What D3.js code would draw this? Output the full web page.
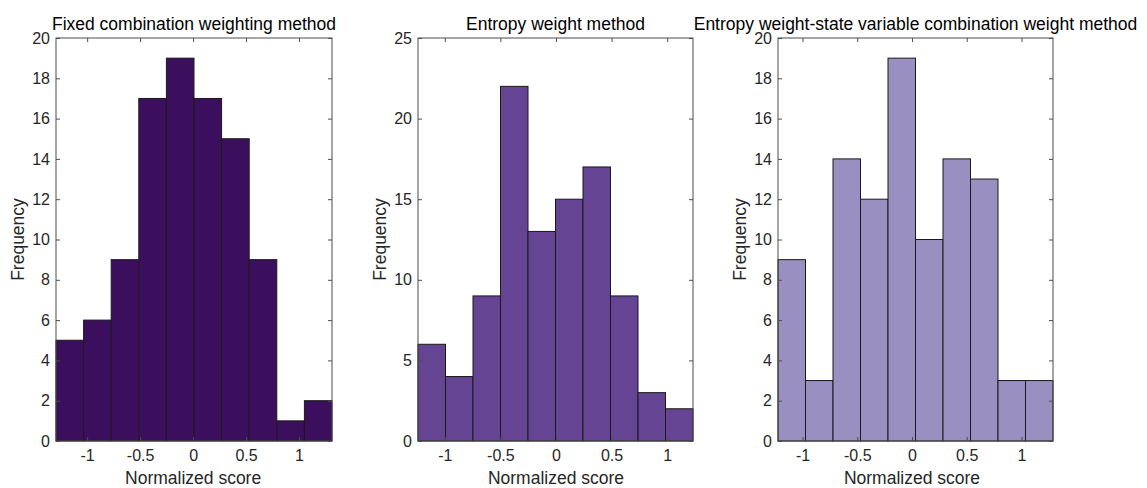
<!DOCTYPE html>
<html>
<head>
<meta charset="utf-8">
<script src="https://cdn.jsdelivr.net/npm/d3@7"></script>
<style>
  html, body { margin: 0; padding: 0; background: #fff; }
  svg { display: block; font-family: "Liberation Sans", Arial, Helvetica, sans-serif; }
</style>
</head>
<body>
<svg id="chart" width="1147" height="488"></svg>
<script>
// Histogram counts per method (10 bins each)
const titles = [
  "Fixed combination weighting method",
  "Entropy weight method",
  "Entropy weight-state variable combination weight method"
];
const countsFixed   = [5, 6, 9, 17, 19, 17, 15, 9, 1, 2];
const countsEntropy = [6, 4, 9, 22, 13, 15, 17, 9, 3, 2];
const countsCombo   = [9, 3, 14, 12, 19, 10, 14, 13, 3, 3];
// First bin edge and bin width (normalized score units)
const binStart = [-1.294, -1.241, -1.224];
const binWidth = [0.2605, 0.2473, 0.2512];
// Axis ticks
const xTicks = [-1, -0.5, 0, 0.5, 1];
const yTicksA = [0, 2, 4, 6, 8, 10, 12, 14, 16, 18, 20];
const yTicksB = [0, 5, 10, 15, 20, 25];
const yMax = [20, 25, 20];
const fills = ["#3b0f5e", "#654494", "#998fc1"];

const allCounts = [countsFixed, countsEntropy, countsCombo];
const allYTicks = [yTicksA, yTicksB, yTicksA];

const svg = d3.select("#chart");
const panelX = [[56, 332], [418, 693], [778, 1053]];
const plotTop = 38, plotBottom = 441;
const axisColor = "#4d4d4d";
const labelSize = "17.5px";
const tickSize = "16px";
const fmt = v => String(v);

allCounts.forEach((counts, i) => {
  const bins = counts.map((c, k) => ({
    x0: binStart[i] + k * binWidth[i],
    x1: binStart[i] + (k + 1) * binWidth[i],
    c
  }));
  const x = d3.scaleLinear()
    .domain([bins[0].x0, bins[bins.length - 1].x1])
    .range(panelX[i]);
  const y = d3.scaleLinear().domain([0, yMax[i]]).range([plotBottom, plotTop]);

  const g = svg.append("g");

  // bars
  g.selectAll("rect.bar").data(bins).enter().append("rect")
    .attr("class", "bar")
    .attr("x", d => x(d.x0))
    .attr("width", d => x(d.x1) - x(d.x0))
    .attr("y", d => y(d.c))
    .attr("height", d => y(0) - y(d.c))
    .attr("fill", fills[i])
    .attr("stroke", "#1a1a1a")
    .attr("stroke-width", 1);

  const styleAxis = sel => {
    sel.select(".domain").remove();
    sel.selectAll(".tick line").attr("stroke", axisColor);
    sel.selectAll(".tick text")
      .attr("fill", "#262626")
      .style("font-size", tickSize)
      .style("font-family", "'Liberation Sans', Arial, sans-serif");
  };

  // bottom axis with inward ticks
  g.append("g").attr("transform", `translate(0,${plotBottom})`)
    .call(d3.axisBottom(x).tickValues(xTicks).tickFormat(fmt).tickSizeInner(-4).tickSizeOuter(0).tickPadding(9))
    .call(styleAxis);
  // top ticks
  g.append("g").attr("transform", `translate(0,${plotTop})`)
    .call(d3.axisTop(x).tickValues(xTicks).tickFormat("").tickSizeInner(-4).tickSizeOuter(0))
    .call(styleAxis);
  // left axis
  g.append("g").attr("transform", `translate(${panelX[i][0]},0)`)
    .call(d3.axisLeft(y).tickValues(allYTicks[i]).tickFormat(fmt).tickSizeInner(-4).tickSizeOuter(0).tickPadding(6))
    .call(styleAxis);
  // right ticks
  g.append("g").attr("transform", `translate(${panelX[i][1]},0)`)
    .call(d3.axisRight(y).tickValues(allYTicks[i]).tickFormat("").tickSizeInner(-4).tickSizeOuter(0))
    .call(styleAxis);

  // axes box
  g.append("rect")
    .attr("x", panelX[i][0]).attr("y", plotTop)
    .attr("width", panelX[i][1] - panelX[i][0]).attr("height", plotBottom - plotTop)
    .attr("fill", "none").attr("stroke", axisColor).attr("stroke-width", 1);

  const cx = (panelX[i][0] + panelX[i][1]) / 2;
  // title
  g.append("text")
    .attr("x", cx).attr("y", 30)
    .attr("text-anchor", "middle")
    .attr("fill", "#000")
    .style("font-size", labelSize)
    .text(titles[i]);
  // x label
  g.append("text")
    .attr("x", x(0)).attr("y", 484)
    .attr("text-anchor", "middle")
    .attr("fill", "#262626")
    .style("font-size", labelSize)
    .text("Normalized score");
  // y label
  g.append("text")
    .attr("transform", `translate(${panelX[i][0] - 32},${(plotTop + plotBottom) / 2}) rotate(-90)`)
    .attr("text-anchor", "middle")
    .attr("fill", "#262626")
    .style("font-size", labelSize)
    .text("Frequency");
});
</script>
</body>
</html>
